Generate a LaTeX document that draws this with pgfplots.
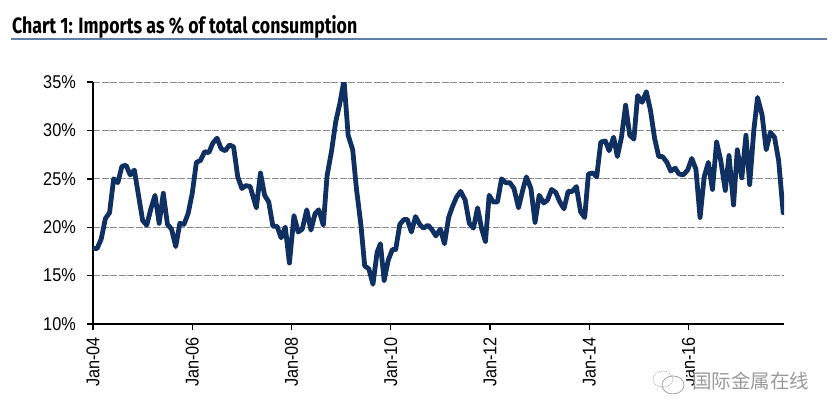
\documentclass[border=0pt]{standalone}
\usepackage{fontspec}
\usepackage{pgfplots}
\usepackage{pgfplotstable}
\pgfplotsset{compat=1.18}
\setmainfont[FakeStretch=0.88]{Liberation Sans}
\newfontfamily\titlefont[FakeStretch=0.8]{Fira Sans}
\newfontfamily\cjk{Noto Sans CJK SC}
\definecolor{linenavy}{HTML}{0F3060}
\definecolor{rulecol}{HTML}{5F7FA8}
\definecolor{gridcol}{HTML}{8C8C8C}
\definecolor{markcol}{HTML}{9A9A9A}

% month index from Jan-04 = 0, imports share in %
\pgfplotstableread{
x y
0 17.8
1 17.8
2 18.8
3 20.9
4 21.5
5 25.0
6 24.6
7 26.3
8 26.4
9 25.4
10 25.9
11 23.3
12 20.7
13 20.2
14 21.9
15 23.3
16 20.4
17 23.5
18 20.3
19 19.8
20 18.0
21 20.4
22 20.3
23 21.4
24 23.5
25 26.7
26 26.9
27 27.8
28 27.7
29 28.7
30 29.2
31 28.1
32 27.9
33 28.5
34 28.3
35 25.2
36 24.0
37 24.3
38 24.2
39.5 22.0
40.5 25.6
41.5 23.3
42.5 22.6
43.5 20.1
44.5 20.1
45.5 18.9
46.5 20.0
47.5 16.3
48.6 21.2
49.6 19.5
50.6 19.8
51.7 21.8
52.7 19.7
53.7 21.4
54.6 21.8
55.7 20.2
56.6 25.3
57.7 27.9
58.7 30.9
59.7 32.8
60.7 35.2
61.7 29.5
62.8 28.0
63.7 24.0
64.8 20.2
65.7 16.0
66.7 15.7
67.7 14.1
68.7 17.4
69.5 18.3
70.4 14.5
71.4 16.6
72.4 17.7
73.2 17.7
74.2 20.3
75.2 20.8
76.0 20.8
77.0 19.5
78.0 21.1
79.0 20.3
79.9 19.9
81.0 20.2
81.9 19.8
82.9 19.1
84.0 19.8
85.0 18.3
86.0 21.0
86.9 22.1
87.9 23.1
88.9 23.7
90.0 22.8
91.0 20.4
92.0 19.9
93.0 22.0
94.0 19.8
94.9 18.5
95.8 23.3
96.8 22.6
97.8 22.6
98.8 25.0
99.8 24.6
100.8 24.6
101.8 24.0
102.9 22.0
103.9 23.8
104.8 25.2
105.9 24.0
106.9 20.5
107.9 23.3
109.0 22.5
109.9 22.8
110.9 23.9
111.9 23.6
112.9 22.6
113.9 21.9
114.9 23.7
115.9 23.7
116.9 24.2
117.9 21.6
118.9 21.0
119.8 25.5
120.9 25.6
121.8 25.2
122.8 28.8
123.9 28.9
124.8 27.9
125.9 29.3
126.8 27.3
127.8 29.3
128.8 32.6
129.8 29.5
130.8 29.1
131.7 33.6
132.8 32.9
133.8 34.0
134.8 32.1
135.8 29.2
136.8 27.3
137.7 27.3
138.8 26.7
139.7 25.8
140.8 26.1
141.7 25.5
142.7 25.4
143.8 25.9
144.8 27.1
145.8 26.0
146.8 21.0
147.8 25.2
148.8 26.7
149.8 23.9
150.8 28.8
151.8 26.9
152.9 23.8
153.8 27.4
154.9 22.3
155.8 28.0
156.9 25.1
157.9 29.5
158.8 24.4
159.8 30.0
160.7 33.4
161.8 31.6
162.8 28.0
163.8 29.8
164.8 29.3
165.8 26.9
166.9 21.5
}\importshare

\begin{document}
\begin{tikzpicture}[x=1pt,y=1pt]
  \path[use as bounding box] (0,0) rectangle (836,416);
  % heading and rule
  \node[anchor=base west, inner sep=0pt] at (12,382)
    {\titlefont\bfseries\fontsize{22.2}{24}\selectfont Chart 1: Imports as \% of total consumption};
  \draw[rulecol, line width=2pt] (11,377) -- (827,377);

  \begin{axis}[
    at={(93pt,92pt)}, anchor=origin,
    scale only axis,
    width=691pt, height=242pt,
    xmin=0, xmax=167.1,
    ymin=10, ymax=35,
    axis lines=left,
    axis line style={-, black, line width=1.6pt},
    tick align=outside,
    major tick length=6pt,
    tick style={black, line width=1.4pt},
    xtick={0,24,48,72,96,120,144},
    xticklabels={Jan-04,Jan-06,Jan-08,Jan-10,Jan-12,Jan-14,Jan-16},
    ytick={10,15,20,25,30,35},
    yticklabels={10\%,15\%,20\%,25\%,30\%,35\%},
    tick label style={font=\fontsize{18.5}{20}\selectfont},
    xticklabel style={rotate=90, anchor=east, inner sep=0pt, xshift=-7pt},
    yticklabel style={anchor=east, inner sep=0pt, xshift=-11pt},
    ymajorgrids,
    grid style={gridcol, line width=0.9pt, dash pattern=on 7pt off 1.5pt},
    axis on top=false,
  ]
    \addplot[linenavy, line width=4.8pt, line join=round, line cap=round]
      table[x=x, y=y] {\importshare};
  \end{axis}

  % watermark
  \fill[white] (650,22) rectangle (686,48);
  \draw[markcol, line width=0.7pt, densely dotted] (663,37) ellipse (10 and 8);
  \draw[markcol, line width=0.7pt] (673,31) ellipse (11 and 9);
  \node[anchor=west, inner sep=0pt, text=markcol] at (692,35)
    {\cjk\fontsize{19.5}{20}\selectfont 国际金属在线};
\end{tikzpicture}
\end{document}
